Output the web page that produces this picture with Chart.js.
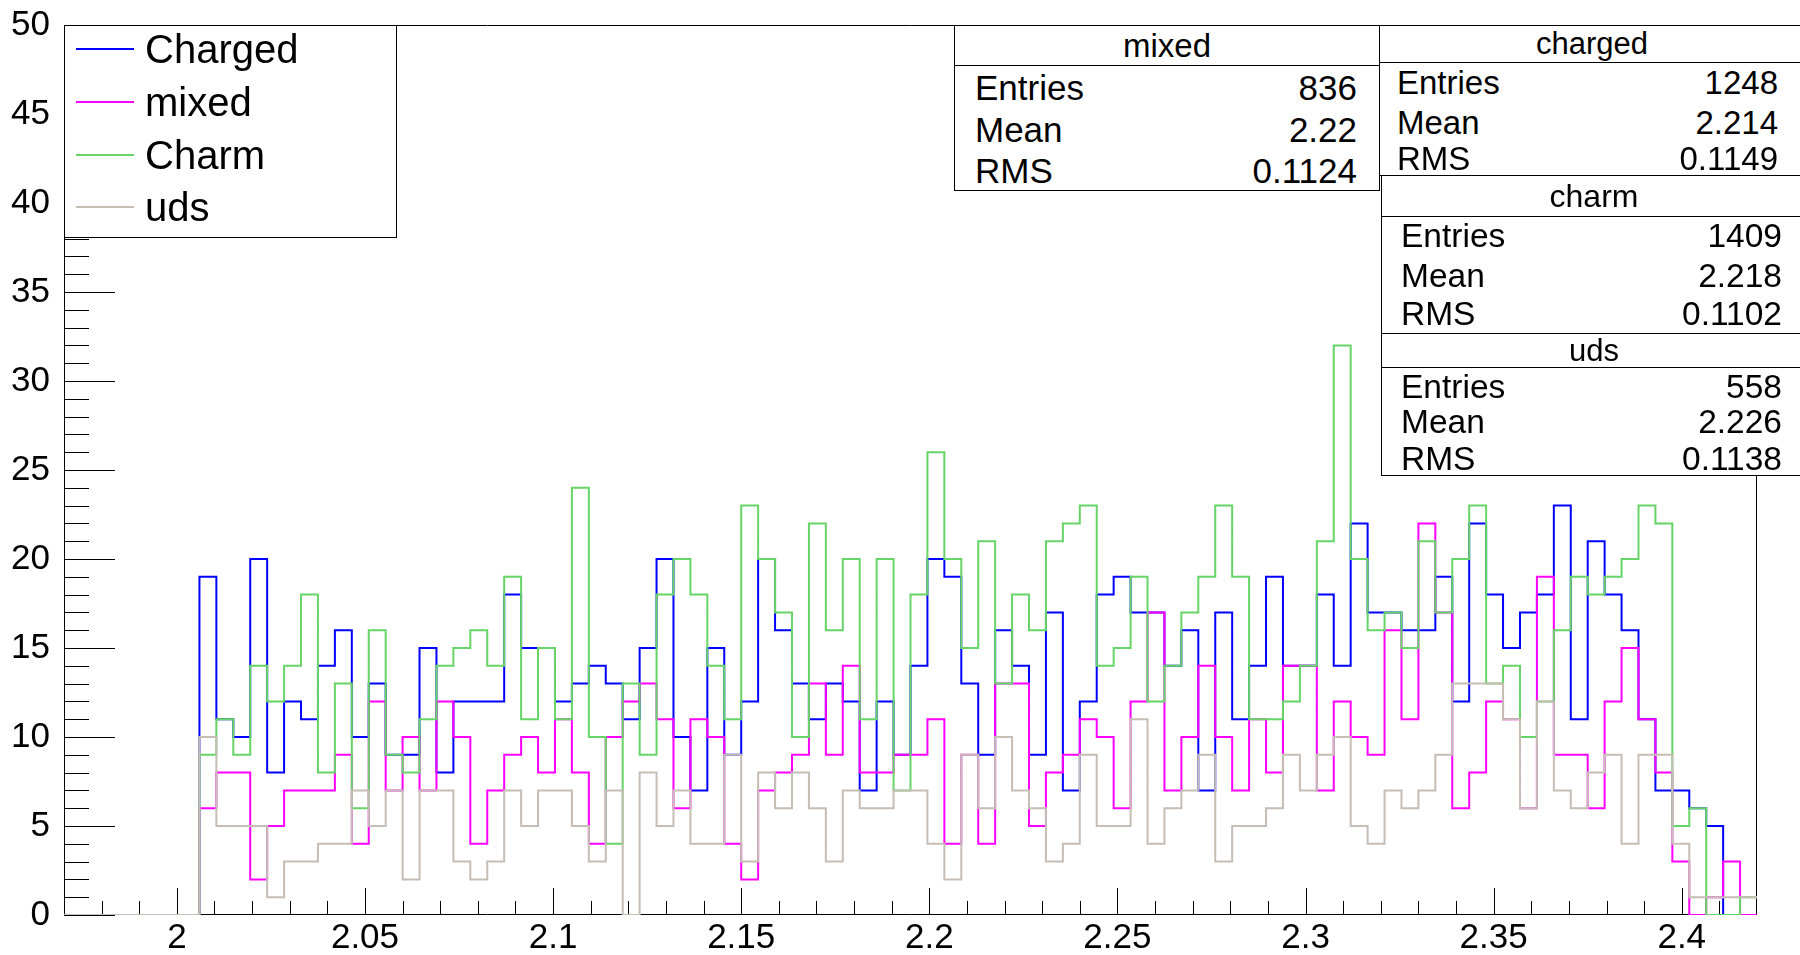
<!DOCTYPE html>
<html>
<head>
<meta charset="utf-8">
<title>Mass distribution</title>
<script src="https://cdn.jsdelivr.net/npm/chart.js@4.4.1/dist/chart.umd.min.js"></script>
<style>
  body { margin: 0; background: #fff; }
  #wrap { position: relative; width: 1800px; height: 955px; overflow: hidden;
          font-family: "Liberation Sans", Arial, Helvetica, sans-serif; color: #000; }
  #chart-mass { position: absolute; left: 0; top: 0; }
  .box { position: absolute; background: #fff; border: 1px solid #000; box-sizing: border-box; }
  .row { position: absolute; left: 0; right: 0; white-space: nowrap; }
  .row .val { position: absolute; }
  .title { position: absolute; left: 0; right: 0; top: 0; text-align: center; border-bottom: 1px solid #000; box-sizing: border-box; }
  .leg { position: absolute; left: 0; height: 50px; display: flex; align-items: center; }
  .leg .line { position: absolute; left: 11px; width: 58px; height: 2px; }
  .leg .txt { position: absolute; left: 80px; font-size: 40px; line-height: 50px; }
</style>
</head>
<body>
<div id="wrap">
  <canvas id="chart-mass" width="1800" height="955"></canvas>
</div>
<script>
// histogram binning (100 bins between 1.97 and 2.42)
const xMin = 1.97;
const xMax = 2.42;
const binWidth = 0.0045;

const xTicks = [2, 2.05, 2.1, 2.15, 2.2, 2.25, 2.3, 2.35, 2.4];
const yTicks = [0, 5, 10, 15, 20, 25, 30, 35, 40, 45, 50];

const seriesNames = ['Charged', 'mixed', 'Charm', 'uds'];
const seriesColors = ['#0000ff', '#ff00ff', '#66d466', '#c6bdb4'];

// bin contents, bin 0 starts at xMin
const charged = [0,0,0,0,0,0,0,0,
  19,11,10,20,8,12,11,14,16,10,
  13,9,9,15,8,12,12,12,18,15,
  15,12,13,14,13,11,15,20,10,7,
  15,9,12,20,16,13,11,13,12,7,
  12,9,14,20,19,13,9,16,14,9,
  17,7,12,18,19,17,17,14,16,7,
  17,11,14,19,14,14,18,14,22,17,
  17,16,16,19,12,22,18,15,17,18,
  23,11,21,18,16,11,7,7,6,5,0,0];

const mixed = [0,0,0,0,0,0,0,0,
  6,8,8,2,5,7,7,7,9,4,
  12,7,10,7,12,10,4,7,9,10,
  8,11,8,4,10,12,13,11,6,11,
  10,4,2,7,8,9,13,9,14,8,
  8,9,9,11,4,9,4,13,13,5,
  8,9,11,10,6,12,17,7,10,14,
  10,7,11,8,14,14,7,12,10,9,
  16,11,22,17,6,8,12,11,6,19,
  9,9,6,12,15,11,8,3,0,1,3,0];

const charm = [0,0,0,0,0,0,0,0,
  9,11,9,14,12,14,18,8,13,6,
  16,9,8,11,14,15,16,14,19,11,
  15,11,24,10,4,13,9,18,20,18,
  14,11,23,20,17,10,22,16,20,11,
  20,7,18,26,20,15,21,13,18,16,
  21,22,23,14,15,19,12,14,17,19,
  23,19,11,11,12,14,21,32,20,16,
  17,15,21,17,20,23,13,14,10,12,
  16,19,18,19,20,23,22,5,6,0,0,1];

const uds = [0,0,0,0,0,0,0,0,
  10,5,5,5,1,3,3,4,4,7,
  5,7,2,7,7,3,2,3,7,5,
  7,7,5,3,7,0,8,5,7,4,
  4,9,3,8,6,8,6,3,7,6,
  6,7,7,4,2,9,6,10,7,6,
  3,4,9,5,5,11,4,6,7,9,
  3,5,5,6,9,7,9,10,5,4,
  7,6,7,9,13,13,13,11,6,12,
  7,6,8,9,4,9,9,4,1,1,1,1];

// stat boxes
const statTitles = ['mixed', 'charged', 'charm', 'uds'];
const statEntries = [836, 1248, 1409, 558];
const statMeans = [2.22, 2.214, 2.218, 2.226];
const statRms = [0.1124, 0.1149, 0.1102, 0.1138];

// points on the left edge of each bin + closing point on the last edge
const histoPoints = counts => {
  const pts = counts.map((c, i) => ({ x: xMin + i * binWidth, y: c }));
  pts.push({ x: xMax, y: counts[counts.length - 1] });
  return pts;
};

const series = [charged, mixed, charm, uds];
const datasets = series.map((counts, i) => ({
  label: seriesNames[i],
  data: histoPoints(counts),
  borderColor: seriesColors[i],
  borderWidth: 2,
  stepped: 'before',
  pointRadius: 0,
  fill: false,
  borderJoinStyle: 'miter',
  order: 3 - i   // uds on top
}));

// frame and inward ticks like ROOT draws them
const rootFrame = {
  id: 'rootFrame',
  beforeDatasetsDraw(chart) {
    const { ctx, chartArea: a, scales } = chart;
    ctx.save();
    ctx.strokeStyle = '#000';
    ctx.lineWidth = 1;
    ctx.beginPath();
    ctx.rect(a.left + 0.5, a.top + 0.5, a.right - a.left - 1, a.bottom - a.top - 1);
    for (let v = 0; v <= 50; v++) {
      const py = Math.round(scales.y.getPixelForValue(v)) + 0.5;
      const len = v % 5 === 0 ? 51 : 25;
      ctx.moveTo(a.left, py);
      ctx.lineTo(a.left + len, py);
    }
    for (let i = 198; i <= 241; i++) {
      const px = Math.round(scales.x.getPixelForValue(i / 100)) + 0.5;
      const len = i % 5 === 0 ? 27 : 14;
      ctx.moveTo(px, a.bottom);
      ctx.lineTo(px, a.bottom - len);
    }
    ctx.stroke();
    ctx.restore();
  }
};

const tickFont = { family: '"Liberation Sans", Arial, sans-serif', size: 35 };

// no extra room for the end labels, the plot fills the fixed frame
const noPad = s => { s.paddingTop = 0; s.paddingBottom = 0; s.paddingLeft = 0; s.paddingRight = 0; };

const ctx = document.getElementById('chart-mass').getContext('2d');
const graficoMasa = new Chart(ctx, {
  type: 'line',
  data: { datasets: datasets },
  plugins: [rootFrame],
  options: {
    responsive: false,
    animation: false,
    layout: { padding: { top: 25, right: 43, left: 0, bottom: 0 } },
    plugins: { legend: { display: false }, tooltip: { enabled: false } },
    scales: {
      x: {
        type: 'linear',
        min: xMin,
        max: xMax,
        afterFit: s => { s.height = 40; noPad(s); },
        afterBuildTicks: s => { s.ticks = xTicks.map(v => ({ value: v })); },
        grid: { display: false, drawTicks: false },
        border: { display: false },
        ticks: {
          color: '#000',
          font: tickFont,
          padding: 2,
          maxRotation: 0,
          autoSkip: false,
          callback: v => String(Number(v.toFixed(2)))
        }
      },
      y: {
        min: 0,
        max: 50,
        afterFit: s => { s.width = 64; noPad(s); },
        afterBuildTicks: s => { s.ticks = yTicks.map(v => ({ value: v })); },
        grid: { display: false, drawTicks: false },
        border: { display: false },
        ticks: { color: '#000', font: tickFont, padding: 14 }
      }
    }
  }
});

const wrap = document.getElementById('wrap');

// legend box
const legend = document.createElement('div');
legend.className = 'box';
Object.assign(legend.style, { left: '64px', top: '25px', width: '333px', height: '213px' });
const legendRows = [23, 76, 129, 181];
seriesNames.forEach((name, i) => {
  const row = document.createElement('div');
  row.className = 'leg';
  row.style.top = (legendRows[i] - 25) + 'px';
  row.innerHTML = '<span class="line" style="background:' + seriesColors[i] + '"></span>' +
                  '<span class="txt">' + name + '</span>';
  legend.appendChild(row);
});
wrap.appendChild(legend);

// stat box geometry: left, top, width, height, title height, row centres, fonts, paddings
const statLayout = [
  { left: 954, top: 25, width: 426, height: 166, titleH: 40, rows: [87, 129, 170], font: 35, titleFont: 33, padL: 20, padR: 22 },
  { left: 1379, top: 25, width: 426, height: 151, titleH: 37, rows: [82, 122, 158], font: 33, titleFont: 31, padL: 17, padR: 26 },
  { left: 1381, top: 175, width: 426, height: 159, titleH: 41, rows: [235, 275, 313], font: 33.5, titleFont: 32, padL: 19, padR: 24 },
  { left: 1381, top: 333, width: 426, height: 143, titleH: 34, rows: [386, 421, 458], font: 33.5, titleFont: 31, padL: 19, padR: 24 }
];

statTitles.forEach((title, i) => {
  const g = statLayout[i];
  const box = document.createElement('div');
  box.className = 'box';
  Object.assign(box.style, { left: g.left + 'px', top: g.top + 'px', width: g.width + 'px', height: g.height + 'px' });

  const head = document.createElement('div');
  head.className = 'title';
  Object.assign(head.style, { height: g.titleH + 'px', lineHeight: (g.titleH - 1) + 'px', fontSize: g.titleFont + 'px' });
  head.textContent = title;
  box.appendChild(head);

  const labels = ['Entries', 'Mean', 'RMS'];
  const values = [statEntries[i], statMeans[i], statRms[i]];
  labels.forEach((lab, j) => {
    const row = document.createElement('div');
    row.className = 'row';
    const h = 40;
    Object.assign(row.style, { top: (g.rows[j] - g.top - h / 2) + 'px', height: h + 'px', lineHeight: h + 'px', fontSize: g.font + 'px' });
    row.innerHTML = '<span style="position:absolute;left:' + g.padL + 'px">' + lab + '</span>' +
                    '<span class="val" style="right:' + g.padR + 'px">' + values[j] + '</span>';
    box.appendChild(row);
  });
  wrap.appendChild(box);
});
</script>
</body>
</html>
